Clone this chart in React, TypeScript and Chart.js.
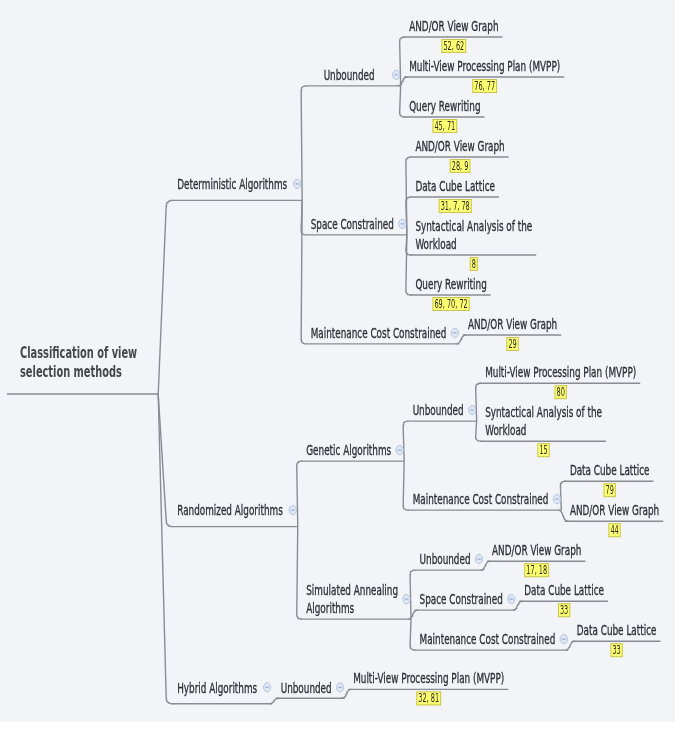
import React, { useEffect, useRef } from "react";
import { Chart, registerables } from "chart.js";

Chart.register(...registerables);

// ---------------- data ----------------
const TOPICS: string[] = [
  "Classification of view\nselection methods",
  "Deterministic Algorithms",
  "Unbounded",
  "AND/OR View Graph",
  "Multi-View Processing Plan (MVPP)",
  "Query Rewriting",
  "Space Constrained",
  "AND/OR View Graph",
  "Data Cube Lattice",
  "Syntactical Analysis of the\nWorkload",
  "Query Rewriting",
  "Maintenance Cost Constrained",
  "AND/OR View Graph",
  "Randomized Algorithms",
  "Genetic Algorithms",
  "Unbounded",
  "Multi-View Processing Plan (MVPP)",
  "Syntactical Analysis of the\nWorkload",
  "Maintenance Cost Constrained",
  "Data Cube Lattice",
  "AND/OR View Graph",
  "Simulated Annealing\nAlgorithms",
  "Unbounded",
  "AND/OR View Graph",
  "Space Constrained",
  "Data Cube Lattice",
  "Maintenance Cost Constrained",
  "Data Cube Lattice",
  "Hybrid Algorithms",
  "Unbounded",
  "Multi-View Processing Plan (MVPP)",
];
const PARENTS: number[] = [
  -1, 0, 1, 2, 2, 2, 1, 6, 6, 6, 6, 1, 11, 0, 13, 14, 15, 15, 14, 18, 18, 13,
  21, 22, 21, 24, 21, 26, 0, 28, 29,
];
const REFERENCES: string[] = [
  "", "", "", "52, 62", "76, 77", "45, 71", "", "28, 9", "31, 7, 78", "8",
  "69, 70, 72", "", "29", "", "", "", "80", "15", "", "79", "44", "", "",
  "17, 18", "", "33", "", "33", "", "", "32, 81",
];

// ---------------- layout / style constants ----------------
const W = 675;
const H = 730;
const BG_BOTTOM = 722;
const FONT = "DejaVu Sans";
const TEXT_PX = 14;
const ROOT_PX = 15;
const REF_PX = 12;
const SX = 0.632;
const ROOT_SX = 0.655;
const REF_SX = 0.545;
const MIN_TEXT_W: Record<number, number> = { 2: 77 };
const TOP = 17.8;
const ROOT_X0 = 7;
const ROOT_TEXT_X = 20;
const ROOT_PAD_R = 21;
const GAP_L1 = 14;
const GAP = 3.5;
const PAD_L = 5;
const GAP_Y = 5.8;
const GAP_Y_L1 = 14;
const LINE_COLOR = "#888c94";
const TEXT_COLOR = "#2f3135";
const BG = "#f2f4f8";

type N = {
  i: number;
  lines: string[];
  ref: string;
  parent: number;
  children: number[];
  depth: number;
  tw: number;
  refTw: number;
  xs: number;
  xe: number;
  textX: number;
  iconX: number;
  c: number;
  uy: number;
  lh: number;
};

function buildLayout(): N[] {
  const m = document.createElement("canvas").getContext("2d")!;
  const nodes: N[] = TOPICS.map((t, i) => ({
    i,
    lines: t.split("\n"),
    ref: REFERENCES[i],
    parent: PARENTS[i],
    children: [],
    depth: 0,
    tw: 0,
    refTw: 0,
    xs: 0,
    xe: 0,
    textX: 0,
    iconX: 0,
    c: 0,
    uy: 0,
    lh: 18,
  }));
  nodes.forEach((n) => {
    if (n.parent >= 0) nodes[n.parent].children.push(n.i);
  });
  nodes.forEach((n) => {
    let d = 0;
    let p = n.parent;
    while (p >= 0) {
      d++;
      p = nodes[p].parent;
    }
    n.depth = d;
    n.lh = d === 0 ? 19.5 : 18;
    m.font = d === 0 ? `bold ${ROOT_PX}px "${FONT}"` : `${TEXT_PX}px "${FONT}"`;
    n.tw = Math.max(...n.lines.map((l) => m.measureText(l).width)) * (d === 0 ? ROOT_SX : SX);
    if (n.ref) {
      m.font = `${REF_PX}px "${FONT}"`;
      n.refTw = m.measureText(n.ref).width * REF_SX;
    }
  });
  // horizontal pass (indices are in pre-order)
  nodes.forEach((n) => {
    if (n.depth === 0) {
      n.xs = ROOT_X0;
      n.textX = ROOT_TEXT_X;
      n.xe = n.textX + n.tw + ROOT_PAD_R;
      return;
    }
    const p = nodes[n.parent];
    n.xs = p.xe + (n.depth === 1 ? GAP_L1 : GAP);
    const area = Math.max(n.tw, MIN_TEXT_W[n.i] ?? 0);
    n.textX = n.xs + PAD_L + (area - n.tw) / 2;
    if (n.children.length) {
      const pr = n.depth === 1 ? 15 : 13;
      n.xe = n.xs + PAD_L + area + pr;
      n.iconX = n.xs + PAD_L + area + (n.depth === 1 ? 10 : 8.5);
    } else {
      n.xe = n.xs + PAD_L + n.tw + 4;
    }
  });
  // vertical pass
  const place = (i: number, top: number): number => {
    const n = nodes[i];
    const nl = n.lines.length;
    const padB = n.depth === 0 ? 22.5 : n.depth === 1 ? 16.5 : n.children.length ? 11 : 11.2;
    if (!n.children.length) {
      n.c = top + 8;
      n.uy = n.c + n.lh * (nl - 1) + padB;
      return n.ref ? n.uy + 15 : n.uy + 2;
    }
    let y = top;
    let bottom = top;
    n.children.forEach((ci, k) => {
      if (k > 0) y = bottom + (n.depth === 0 ? GAP_Y_L1 : GAP_Y);
      bottom = place(ci, y);
    });
    const center = (top + bottom) / 2;
    n.c = center - (n.lh * (nl - 1)) / 2;
    n.uy = n.c + n.lh * (nl - 1) + padB;
    return Math.max(bottom, n.uy + 2);
  };
  place(0, TOP);
  return nodes;
}

type P = { x: number; y: number };

function cubic(a: P, b: P, c: P, d: P, steps = 10): P[] {
  const out: P[] = [];
  for (let k = 0; k <= steps; k++) {
    const t = k / steps;
    const u = 1 - t;
    out.push({
      x: u * u * u * a.x + 3 * u * u * t * b.x + 3 * u * t * t * c.x + t * t * t * d.x,
      y: u * u * u * a.y + 3 * u * u * t * b.y + 3 * u * t * t * c.y + t * t * t * d.y,
    });
  }
  return out;
}

function quad(a: P, b: P, c: P, steps = 8): P[] {
  const out: P[] = [];
  for (let k = 0; k <= steps; k++) {
    const t = k / steps;
    const u = 1 - t;
    out.push({
      x: u * u * a.x + 2 * u * t * b.x + t * t * c.x,
      y: u * u * a.y + 2 * u * t * b.y + t * t * c.y,
    });
  }
  return out;
}

function connector(p: N, ch: N): P[] {
  const x0 = p.xe;
  const y0 = p.uy;
  const x1 = ch.xs;
  const y1 = ch.uy;
  const dy = y1 - y0;
  if (Math.abs(dy) < 14) {
    return cubic(
      { x: x0 - 3, y: y0 },
      { x: x0 + 2.5, y: y0 },
      { x: x0 + 0.5, y: y1 },
      { x: x0 + 7, y: y1 }
    );
  }
  const s = Math.sign(dy);
  const r = p.depth === 0 ? 6 : 4.5;
  const xv = x1 - r;
  return [{ x: x0, y: y0 }, ...quad({ x: xv, y: y1 - s * r }, { x: xv, y: y1 }, { x: x1 + 1, y: y1 })];
}

function buildDatasets(nodes: N[]) {
  const ds: any[] = [];
  const lineStyle = {
    showLine: true,
    pointRadius: 0,
    borderColor: LINE_COLOR,
    borderWidth: 1.4,
    fill: false,
    tension: 0,
  };
  nodes.forEach((n) => {
    ds.push({ ...lineStyle, data: [{ x: n.xs, y: n.uy }, { x: n.xe, y: n.uy }] });
    n.children.forEach((ci) => {
      ds.push({ ...lineStyle, data: connector(n, nodes[ci]) });
    });
  });
  return ds;
}

function makeLabelPlugin(nodes: N[]) {
  return {
    id: "mindmapLabels",
    afterDatasetsDraw(chart: any) {
      const { ctx, scales } = chart;
      const sx = scales.x;
      const sy = scales.y;
      const X = (v: number) => sx.getPixelForValue(v);
      const Y = (v: number) => sy.getPixelForValue(v);
      ctx.save();
      nodes.forEach((n) => {
        // topic text
        const isRoot = n.depth === 0;
        ctx.font = isRoot ? `bold ${ROOT_PX}px "${FONT}"` : `${TEXT_PX}px "${FONT}"`;
        ctx.fillStyle = isRoot ? "#45474b" : TEXT_COLOR;
        ctx.strokeStyle = isRoot ? "#45474b" : TEXT_COLOR;
        ctx.textAlign = "left";
        ctx.textBaseline = "alphabetic";
        n.lines.forEach((line, k) => {
          ctx.save();
          ctx.translate(X(n.textX), Y(n.c + k * n.lh + (isRoot ? 5.5 : 5.2)));
          ctx.scale(isRoot ? ROOT_SX : SX, 1);
          ctx.fillText(line, 0, 0);
          if (!isRoot) {
            ctx.lineWidth = 0.35;
            ctx.strokeText(line, 0, 0);
          }
          ctx.restore();
        });
        // collapse icon
        if (n.children.length && n.depth > 0) {
          const cx = X(n.iconX);
          const cy = Y(n.c + (n.lh * (n.lines.length - 1)) / 2);
          ctx.beginPath();
          ctx.ellipse(cx, cy, 3.6, 4.6, 0, 0, Math.PI * 2);
          ctx.fillStyle = "#dfe7f4";
          ctx.fill();
          ctx.lineWidth = 1;
          ctx.strokeStyle = "#b3c4e0";
          ctx.stroke();
          ctx.beginPath();
          ctx.moveTo(cx - 1.8, cy);
          ctx.lineTo(cx + 1.8, cy);
          ctx.strokeStyle = "#8aa3cc";
          ctx.stroke();
        }
        // reference marker
        if (n.ref) {
          const cx = n.textX + n.tw / 2;
          const w = n.refTw + 4;
          const top = n.uy + 2;
          const h = 14;
          const x0 = X(cx - w / 2);
          const y0 = Y(top);
          ctx.fillStyle = "#ffff72";
          ctx.fillRect(x0, y0, X(cx + w / 2) - x0, Y(top + h) - y0);
          ctx.strokeStyle = "#c8c35a";
          ctx.lineWidth = 1;
          ctx.strokeRect(x0 + 0.5, y0 + 0.5, X(cx + w / 2) - x0 - 1, Y(top + h) - y0 - 1);
          ctx.font = `${REF_PX}px "${FONT}"`;
          ctx.fillStyle = "#2a2a20";
          ctx.textAlign = "center";
          ctx.save();
          ctx.translate(X(cx), Y(top + 11));
          ctx.scale(REF_SX, 1);
          ctx.fillText(n.ref, 0, 0);
          ctx.restore();
        }
      });
      ctx.restore();
    },
  };
}

const backgroundPlugin = {
  id: "pageBackground",
  beforeDraw(chart: any) {
    const { ctx, width, height } = chart;
    ctx.save();
    ctx.fillStyle = "#ffffff";
    ctx.fillRect(0, 0, width, height);
    ctx.fillStyle = BG;
    ctx.fillRect(0, 0, width, BG_BOTTOM);
    ctx.restore();
  },
};

export default function App() {
  const ref = useRef<HTMLCanvasElement>(null);
  useEffect(() => {
    document.body.style.margin = "0";
    const nodes = buildLayout();
    const chart = new Chart(ref.current!, {
      type: "scatter",
      data: { datasets: buildDatasets(nodes) },
      options: {
        animation: false,
        responsive: false,
        maintainAspectRatio: false,
        devicePixelRatio: 1,
        events: [],
        layout: { padding: 0 },
        scales: {
          x: { type: "linear", min: 0, max: W, display: false },
          y: { type: "linear", min: 0, max: H, reverse: true, display: false },
        },
        plugins: {
          legend: { display: false },
          tooltip: { enabled: false },
        },
      },
      plugins: [backgroundPlugin, makeLabelPlugin(nodes)],
    } as any);
    return () => chart.destroy();
  }, []);
  return (
    <canvas
      ref={ref}
      width={W}
      height={H}
      style={{ display: "block", width: W, height: H }}
    />
  );
}
